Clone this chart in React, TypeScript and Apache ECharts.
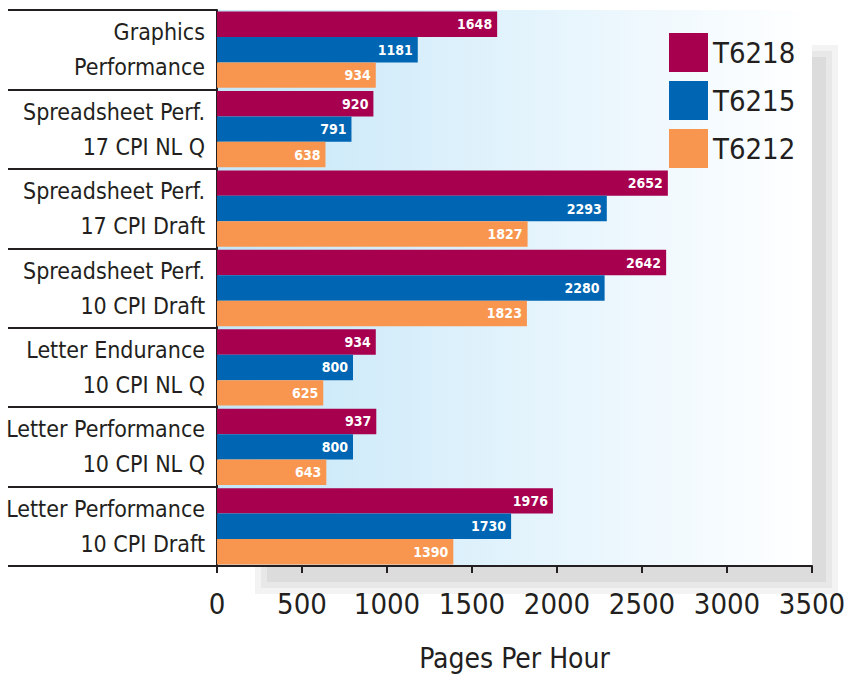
import React, { useEffect, useRef } from "react";
import * as echarts from "echarts";

const categories = [
  "Graphics\nPerformance",
  "Spreadsheet Perf.\n17 CPI NL Q",
  "Spreadsheet Perf.\n17 CPI Draft",
  "Spreadsheet Perf.\n10 CPI Draft",
  "Letter Endurance\n10 CPI NL Q",
  "Letter Performance\n10 CPI NL Q",
  "Letter Performance\n10 CPI Draft",
];
const seriesNames = ["T6218", "T6215", "T6212"];
const t6218 = [1648, 920, 2652, 2642, 934, 937, 1976];
const t6215 = [1181, 791, 2293, 2280, 800, 800, 1730];
const t6212 = [934, 638, 1827, 1823, 625, 643, 1390];
const xTicks = [0, 500, 1000, 1500, 2000, 2500, 3000, 3500];
const colors = ["#a6004f", "#0066b3", "#f89650"];

const FONT = "'DejaVu Sans Condensed', 'Liberation Sans', sans-serif";
const TEXT = "#231f20";

export default function App() {
  const ref = useRef<HTMLDivElement>(null);
  useEffect(() => {
    if (!ref.current) return;
    const chart = echarts.init(ref.current, undefined, { renderer: "svg" });
    const gl = 217, gt = 10, gr = 812, gb = 566;
    const values = [t6218, t6215, t6212];
    chart.setOption({
      animation: false,
      textStyle: { fontFamily: FONT },
      graphic: [
        { type: "rect", z: -10, shape: { x: 255, y: 45, width: 583, height: 549 }, style: { fill: "#f3f3f3" }, silent: true },
        { type: "rect", z: -9, shape: { x: 261, y: 51, width: 571, height: 537 }, style: { fill: "#e8e8e8" }, silent: true },
        { type: "rect", z: -8, shape: { x: 267, y: 57, width: 559, height: 525 }, style: { fill: "#dcdcdc" }, silent: true },
        {
          type: "rect", z: -7, shape: { x: gl, y: gt, width: gr - gl, height: gb - gt }, silent: true,
          style: {
            fill: new echarts.graphic.LinearGradient(0, 0, 1, 0, [
              { offset: 0, color: "#c4e6f7" },
              { offset: 0.5, color: "#e2f3fc" },
              { offset: 1, color: "#ffffff" },
            ]),
          },
        },
      ],
      legend: {
        orient: "vertical",
        left: 664,
        top: 28,
        itemWidth: 39,
        itemHeight: 39,
        itemGap: 9,
        icon: "rect",
        data: seriesNames,
        textStyle: { fontSize: 29, color: TEXT, fontFamily: FONT, padding: [0, 0, 0, 0] },
      },
      grid: { left: gl, top: gt, right: 855 - gr, bottom: 682 - gb, containLabel: false, outerBoundsMode: "none" },
      xAxis: {
        type: "value",
        min: 0,
        max: 3500,
        interval: 500,
        axisLine: { show: true, lineStyle: { color: "#231f20", width: 2 } },
        axisTick: { show: true, length: 7, lineStyle: { color: "#231f20", width: 2 } },
        splitLine: { show: false },
        axisLabel: {
          fontSize: 29, color: TEXT, margin: 23, fontFamily: FONT,
          formatter: (v: number) => (xTicks.includes(v) ? String(v) : ""),
        },
        name: "Pages Per Hour",
        nameLocation: "middle",
        nameGap: 78,
        nameTextStyle: { fontSize: 28, color: TEXT, fontFamily: FONT },
      },
      yAxis: {
        type: "category",
        data: categories,
        inverse: true,
        axisLine: { show: true, lineStyle: { color: "#231f20", width: 2 } },
        axisTick: { show: true, length: 209, lineStyle: { color: "#231f20", width: 2 } },
        axisLabel: { fontSize: 23, lineHeight: 35, color: TEXT, margin: 12, align: "right", fontFamily: FONT },
      },
      series: seriesNames.map((name, i) => ({
        name,
        type: "bar",
        data: values[i],
        barGap: "0%",
        barCategoryGap: "4%",
        itemStyle: { color: colors[i] },
        label: {
          show: true,
          position: "insideRight",
          distance: 5,
          color: "#ffffff",
          fontWeight: "bold",
          fontSize: 14,
          fontFamily: FONT,
        },
      })),
    });
    return () => chart.dispose();
  }, []);
  return <div ref={ref} style={{ width: 855, height: 682, position: "absolute", left: 0, top: 0 }} />;
}
